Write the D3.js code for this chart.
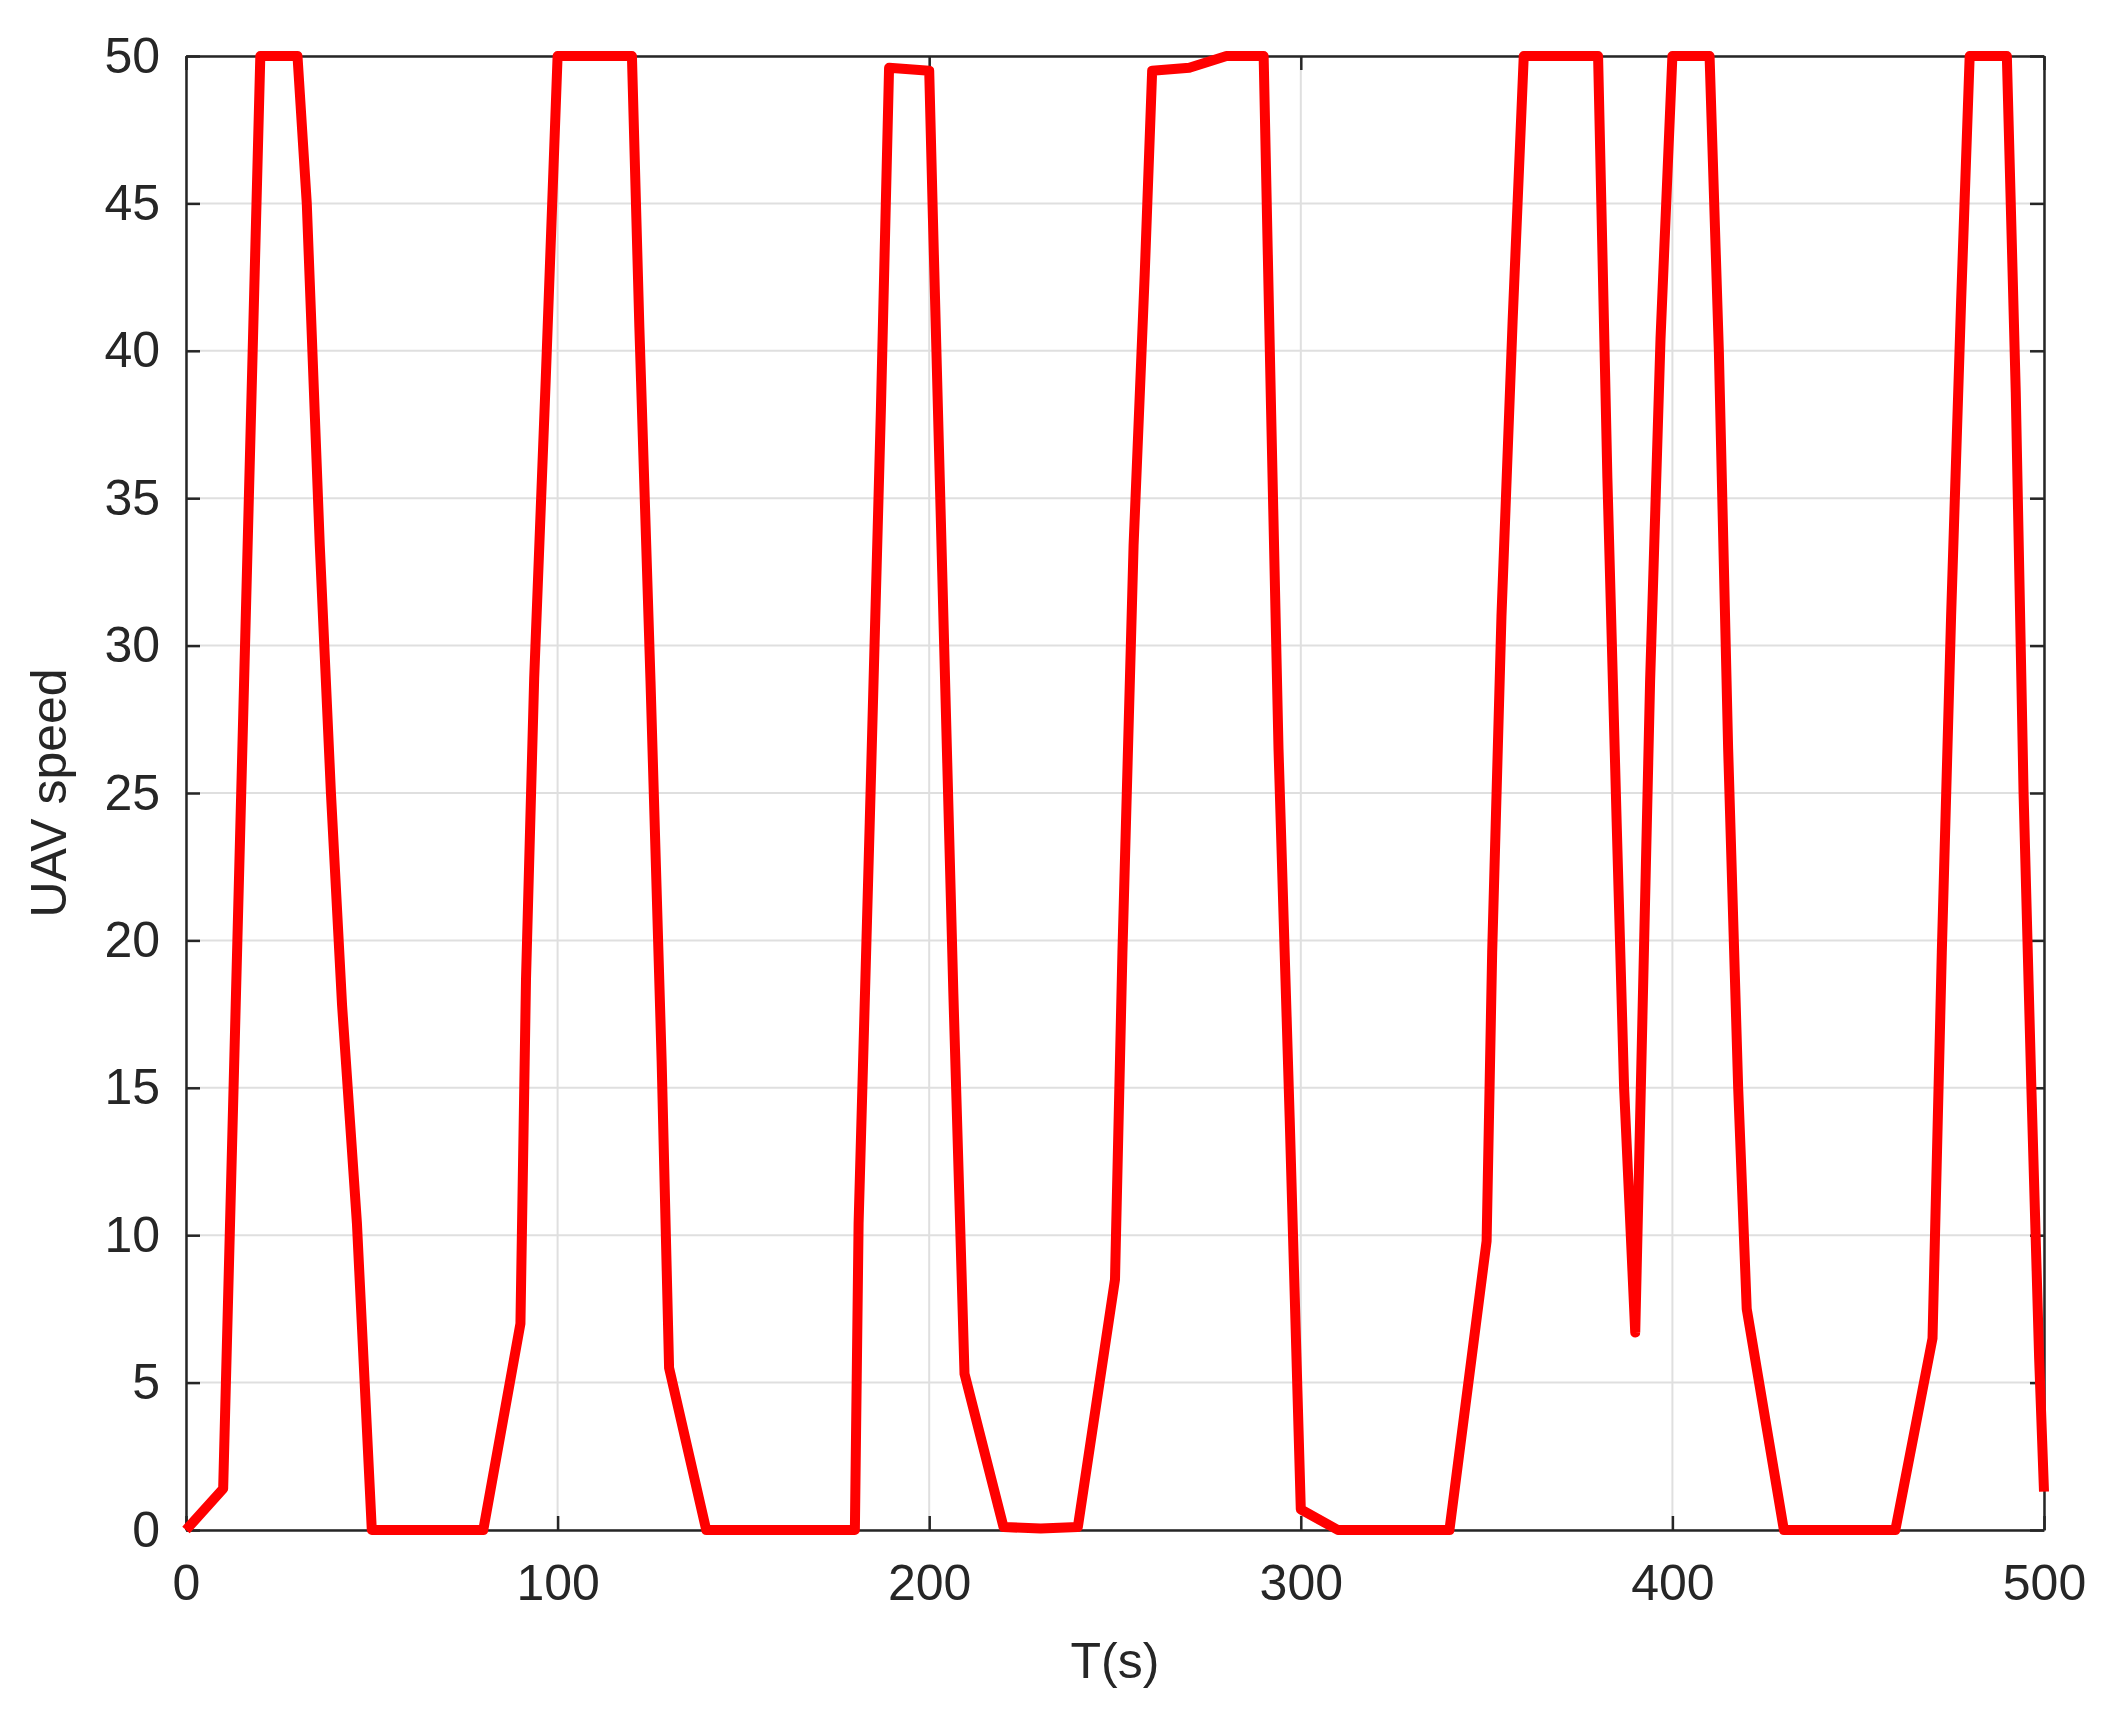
<!DOCTYPE html>
<html><head><meta charset="utf-8">
<script src="https://cdn.jsdelivr.net/npm/d3@7"></script>
<style>body{margin:0;background:#fff}svg{display:block}</style>
</head><body><script>
const times = [0,10,20,30,32.5,36,39,42,46,50,80,90,91.5,93.7,96.8,100,120,122,125,128,130,140,180,181,184,187,189.2,200,201,203.5,206.5,209.5,220,230,240,250,252,255,258,260,270,280,290,292,294,297,300,310,340,350,351.5,354,357,360,380,382.5,385,387,390,391.5,394,396.8,400,410,412.5,415,417.7,420,430,460,470,472.5,475,477.7,480,490,492.4,494.5,496.6,498.7,500];
const speeds = [0,1.4,50,50,45,33.4,25,17.8,10.4,0,0,7,18.7,28.9,39,50,50,40.8,28.8,15.9,5.5,0,0,10.4,24,38,49.6,49.5,44.5,32.5,18.2,5.3,0.1,0.05,0.1,8.5,19.6,33.4,42.6,49.5,49.6,50,50,38,26.5,14,0.7,0,0,9.8,19.6,31,41,50,50,35.7,24,15,6.7,15,28.8,40.4,50,50,40,26.5,15,7.5,0,0,6.5,19.6,31,41.7,50,50,38.6,25,15,5.8,1.3];
const xTicks = [0,100,200,300,400,500];
const yTicks = [0,5,10,15,20,25,30,35,40,45,50];
const W=2122,H=1716,m={l:186,r:78,t:56,b:186};
const svg=d3.select("body").append("svg").attr("width",W).attr("height",H);
const x=d3.scaleLinear().domain([0,500]).range([m.l,W-m.r]);
const y=d3.scaleLinear().domain([0,50]).range([H-m.b,m.t]);
const g=svg.append("g");
g.selectAll(".gx").data(xTicks).join("line").attr("x1",d=>x(d)).attr("x2",d=>x(d)).attr("y1",y(0)).attr("y2",y(50)).attr("stroke","#dfdfdf").attr("stroke-width",2);
g.selectAll(".gy").data(yTicks).join("line").attr("y1",d=>y(d)).attr("y2",d=>y(d)).attr("x1",x(0)).attr("x2",x(500)).attr("stroke","#dfdfdf").attr("stroke-width",2);
const font="'Liberation Sans',Arial,sans-serif", col="#262626";
const tl=14;
const ax=svg.append("g").attr("transform",`translate(0,${y(0)})`).call(d3.axisBottom(x).tickValues(xTicks).tickSizeInner(-tl).tickSizeOuter(0).tickPadding(34));
const axT=svg.append("g").attr("transform",`translate(0,${y(50)})`).call(d3.axisTop(x).tickValues(xTicks).tickSizeInner(-tl).tickSizeOuter(0).tickFormat(""));
const ay=svg.append("g").attr("transform",`translate(${x(0)},0)`).call(d3.axisLeft(y).tickValues(yTicks).tickSizeInner(-tl).tickSizeOuter(0).tickPadding(26));
const ayR=svg.append("g").attr("transform",`translate(${x(500)},0)`).call(d3.axisRight(y).tickValues(yTicks).tickSizeInner(-tl).tickSizeOuter(0).tickFormat(""));
[ax,axT,ay,ayR].forEach(a=>{a.selectAll("path,line").attr("stroke",col).attr("stroke-width",2.5);a.selectAll("text").attr("fill",col).style("font-family",font).style("font-size","50px");});
const line=d3.line().x((d,i)=>x(times[i])).y(d=>y(d));
svg.append("path").datum(speeds).attr("d",line).attr("fill","none").attr("stroke","#ff0000").attr("stroke-width",10).attr("stroke-linejoin","round");
svg.append("text").attr("x",(x(0)+x(500))/2).attr("y",1678).attr("text-anchor","middle").attr("fill",col).style("font-family",font).style("font-size","50px").text("T(s)");
svg.append("text").attr("transform",`translate(66,${(y(0)+y(50))/2}) rotate(-90)`).attr("text-anchor","middle").attr("fill",col).style("font-family",font).style("font-size","50px").text("UAV speed");
</script></body></html>
